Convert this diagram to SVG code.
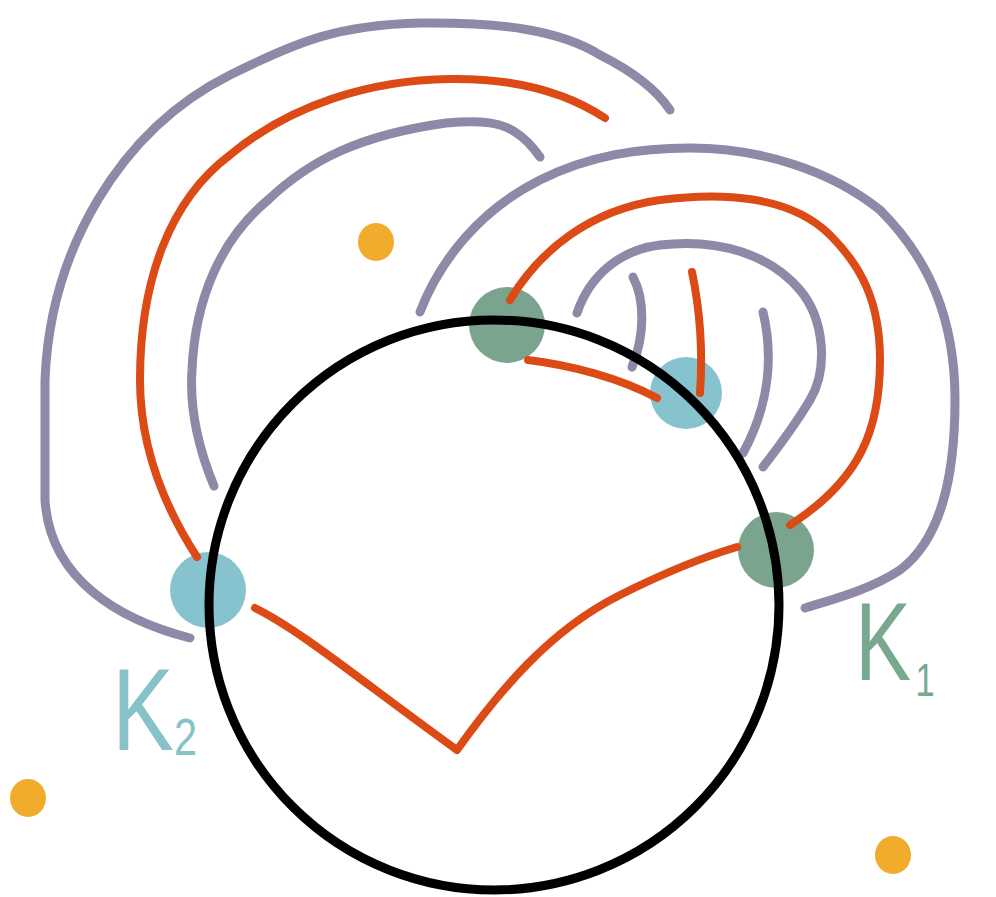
<svg xmlns="http://www.w3.org/2000/svg" width="996" height="897" viewBox="0 0 996 897">
<style>
.g{fill:none;stroke:#8f88a6;stroke-width:9;stroke-linecap:round;stroke-linejoin:round}
.o{fill:none;stroke:#dc4b16;stroke-width:8;stroke-linecap:round;stroke-linejoin:round}
.dot{fill:#f2ac2c}
.lbl{font-family:"Liberation Sans",Arial,sans-serif}
</style>
<rect width="996" height="897" fill="#fff"/>
<g id="dots">
<ellipse class="dot" cx="376" cy="242" rx="18" ry="19"/>
<ellipse class="dot" cx="28" cy="798" rx="18" ry="19"/>
<ellipse class="dot" cx="893" cy="855" rx="18" ry="19"/>
</g>
<g id="nodes-back">
<g id="n-top"><circle cx="507" cy="325" r="38" fill="#7aa48d"/></g>
<g id="n-mid"><circle cx="686" cy="393" r="36" fill="#87c3cf"/></g>
<g id="n-right"><circle cx="776" cy="550" r="38" fill="#7aa48d"/></g>
<g id="n-left"><circle cx="208" cy="590" r="38" fill="#87c3cf"/></g>
</g>
<g id="connectors">
<path class="g" d="M190,638 C120,620 50,580 45,500 L45,380 C50,250 120,130 230,75 C300,40 340,25 420,23 C500,22 560,30 600,55 C640,75 660,95 670,110"/>
<path class="o" d="M197,557 C160,500 140,440 140,380 C140,280 170,200 230,155 C290,105 370,80 450,79 C520,78 570,95 605,118"/>
<path class="g" d="M214,486 C195,440 190,400 192,370 C195,300 220,240 268,200 C310,160 360,135 446,123 C480,120 500,122 515,132 C528,140 535,150 540,157"/>
<path class="g" d="M420,312 C440,260 480,210 540,180 C590,155 640,148 690,148 C760,148 830,170 880,210 C930,260 955,320 955,400 C955,480 940,540 900,570 C870,590 830,600 805,608"/>
<path class="o" d="M510,300 C540,250 590,210 660,200 C720,192 790,195 830,235 C860,265 880,300 880,360 C880,430 860,480 790,525"/>
<path class="g" d="M577,313 C590,275 620,250 660,245 C720,238 770,255 800,290 C825,320 828,370 810,400 C795,425 780,445 763,467"/>
<path class="g" d="M633,277 C645,300 645,335 632,367"/>
<path class="o" d="M692,272 C700,310 703,350 700,393"/>
<path class="g" d="M763,312 C772,350 772,400 743,453"/>
<path class="o" d="M528,360 C570,365 620,378 657,398"/>
<path class="o" d="M255,608 C300,630 360,680 457,750 C500,690 550,630 620,595 C670,570 710,555 737,547"/>
</g>
<g id="circle"><circle cx="494" cy="605" r="285" fill="none" stroke="#000" stroke-width="9"/></g>
<g id="labels">
<text class="lbl" x="112" y="750" font-size="116" fill="#88c2c9" transform="translate(112 750) scale(0.8 1) translate(-112 -750)">K<tspan font-size="52" dy="5">2</tspan></text>
<text class="lbl" x="855" y="680" font-size="112" fill="#78a88e" transform="translate(855 680) scale(0.75 1) translate(-855 -680)">K<tspan font-size="46" dx="6" dy="16">1</tspan></text>
</g>
</svg>
